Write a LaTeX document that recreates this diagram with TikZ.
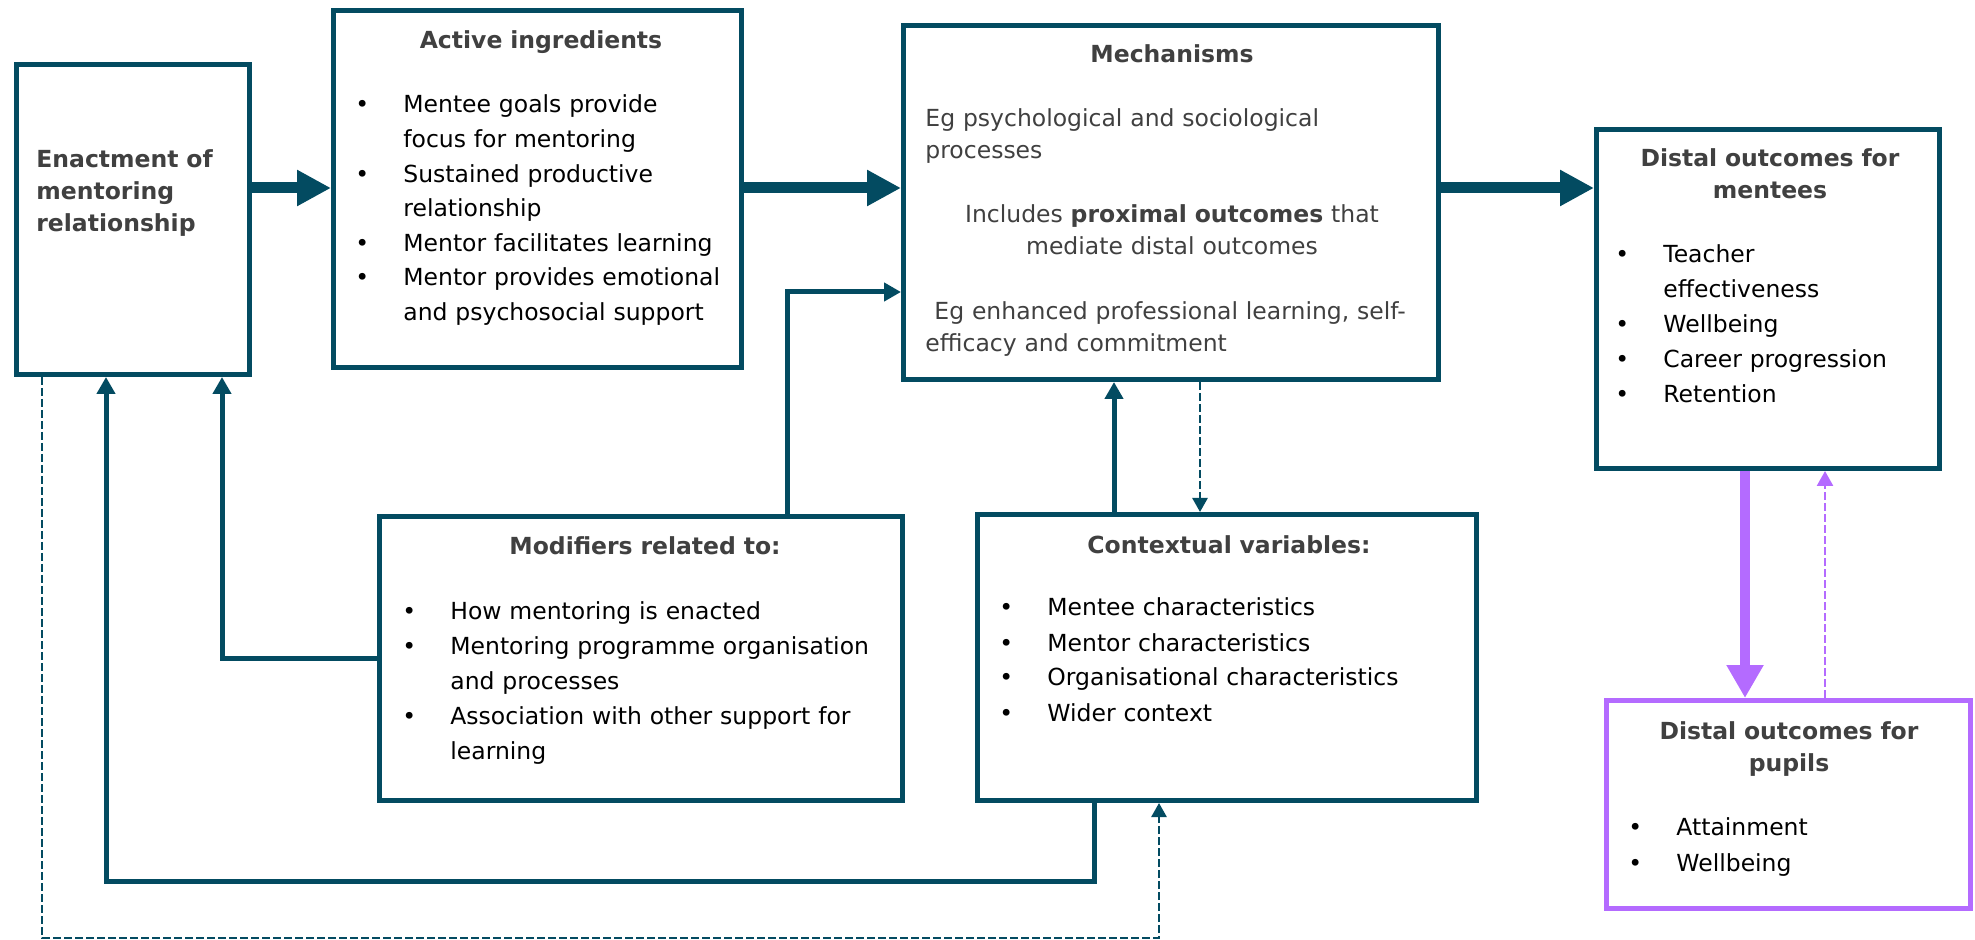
\documentclass[tikz,border=0pt]{standalone}
\usepackage{fontspec}
\setmainfont{DejaVu Sans}
\usetikzlibrary{arrows.meta}
\definecolor{tealc}{HTML}{034B61}
\definecolor{purp}{HTML}{B46BFF}
\definecolor{txtgray}{HTML}{404040}
\newcommand{\bitm}[1]{\makebox[23pt][l]{\hspace*{-1pt}\textbullet}#1\par}
\newcommand{\citm}[1]{\hspace*{23pt}#1\par}
\tikzset{
  box/.style={draw=tealc, line width=2.5pt, fill=white, inner sep=0pt},
  pbox/.style={draw=purp, line width=2.5pt, fill=white, inner sep=0pt},
  bigarrow/.style={draw=tealc, line width=5.5pt, -{Triangle[length=17pt,width=17pt]}},
  fb/.style={draw=tealc, line width=2.5pt, -{Triangle[length=8.5pt,width=9pt]}},
  fbd/.style={draw=tealc, line width=1.3pt, dash pattern=on 4pt off 1.5pt, -{Triangle[length=7pt,width=7.5pt]}},
  pbig/.style={draw=purp, line width=5pt, -{Triangle[length=16.5pt,width=17.5pt]}},
  pdash/.style={draw=purp, line width=1.3pt, dash pattern=on 4pt off 1.5pt, -{Triangle[length=7.5pt,width=8pt]}},
  head/.style={font={\fontsize{11.75}{16}\selectfont\bfseries}, text=txtgray, inner sep=0pt, anchor=base, text width=200pt, align=center},
  body/.style={font={\fontsize{11.75}{#1}\selectfont}, text=black, inner sep=0pt, anchor=base west, text width=260pt, align=left},
  mtext/.style={font={\fontsize{11.75}{16}\selectfont}, text=txtgray, inner sep=0pt, text width=260pt},
}
\begin{document}
\begin{tikzpicture}[x=0.5pt,y=-0.5pt]
\useasboundingbox (0,0) rectangle (1975,940);
% boxes
\node[box, minimum width=116.5pt, minimum height=155pt] (enact) at (133,219.5) {};
\node[box, minimum width=204pt, minimum height=178.5pt] (active) at (537.5,189) {};
\node[box, minimum width=267.5pt, minimum height=177pt] (mech) at (1171,202.5) {};
\node[box, minimum width=171.5pt, minimum height=169.5pt] (mentees) at (1768,299) {};
\node[box, minimum width=261.5pt, minimum height=142pt] (mods) at (641,658.5) {};
\node[box, minimum width=249.5pt, minimum height=143pt] (ctx) at (1227,657.5) {};
\node[pbox, minimum width=182pt, minimum height=104pt] (pupils) at (1788.5,804.5) {};
% connectors
\coordinate (yA) at (0,188);
\draw[bigarrow] (enact.east |- yA) -- (active.west |- yA);
\draw[bigarrow] (active.east |- yA) -- (mech.west |- yA);
\draw[bigarrow] (mech.east |- yA) -- (mentees.west |- yA);
\coordinate (k1) at (787,292);
\draw[fb] (k1 |- mods.north) -- (k1) -- (k1 -| mech.west);
\coordinate (k2) at (222,658);
\draw[fb] (mods.west |- k2) -- (k2) -- (k2 |- enact.south);
\coordinate (k3) at (1114,450);
\draw[fb] (k3 |- ctx.north) -- (k3 |- mech.south);
\coordinate (k4) at (1200,450);
\draw[fbd] (k4 |- mech.south) -- (k4 |- ctx.north);
\coordinate (k5) at (1094,881);
\coordinate (k6) at (106,881);
\draw[fb] (k5 |- ctx.south) -- (k5) -- (k6) -- (k6 |- enact.south);
\coordinate (k7) at (42,938);
\coordinate (k8) at (1159,938);
\draw[fbd] (k7 |- enact.south) -- (k7) -- (k8) -- (k8 |- ctx.south);
\coordinate (k9) at (1745,580);
\draw[pbig] (k9 |- mentees.south) -- (k9 |- pupils.north);
\coordinate (k10) at (1825,580);
\draw[pdash] (k10 |- pupils.north) -- (k10 |- mentees.south);
% texts
\node[font={\fontsize{11.75}{16}\selectfont\bfseries}, text=txtgray, inner sep=0pt, anchor=base west, text width=110pt, align=left] (tenact) at (36,168) {Enactment of\\mentoring\\relationship};
\node[head] (hact) at (541,49) {Active ingredients};
\node[body=17.3pt] (lact) at (357,113) {\bitm{Mentee goals provide}\citm{focus for mentoring}\bitm{Sustained productive}\citm{relationship}\bitm{Mentor facilitates learning}\bitm{Mentor provides emotional}\citm{and psychosocial support}};
\node[head] (hmech) at (1172,63) {Mechanisms};
\node[mtext, anchor=base west, align=left] (m1) at (925,127) {Eg psychological and sociological\\processes};
\node[mtext, anchor=base, align=center] (m2) at (1172,223) {Includes \textbf{proximal outcomes} that\\mediate distal outcomes};
\node[mtext, anchor=base west, align=left] (m3) at (925,320) {\hspace*{4.5pt}Eg enhanced professional learning, self-\\efficacy and commitment};
\node[head] (hment) at (1770,167) {Distal outcomes for\\mentees};
\node[body=17.4pt] (lment) at (1617,263) {\bitm{Teacher}\citm{effectiveness}\bitm{Wellbeing}\bitm{Career progression}\bitm{Retention}};
\node[head] (hmods) at (645,555) {Modifiers related to:};
\node[body=17.5pt] (lmods) at (404,619) {\bitm{How mentoring is enacted}\bitm{Mentoring programme organisation}\citm{and processes}\bitm{Association with other support for}\citm{learning}};
\node[head] (hctx) at (1229,553) {Contextual variables:};
\node[body=17.5pt] (lctx) at (1001,616) {\bitm{Mentee characteristics}\bitm{Mentor characteristics}\bitm{Organisational characteristics}\bitm{Wider context}};
\node[head] (hpup) at (1789,739) {Distal outcomes for\\pupils};
\node[body=18pt] (lpup) at (1630,835) {\bitm{Attainment}\bitm{Wellbeing}};
\end{tikzpicture}
\end{document}
